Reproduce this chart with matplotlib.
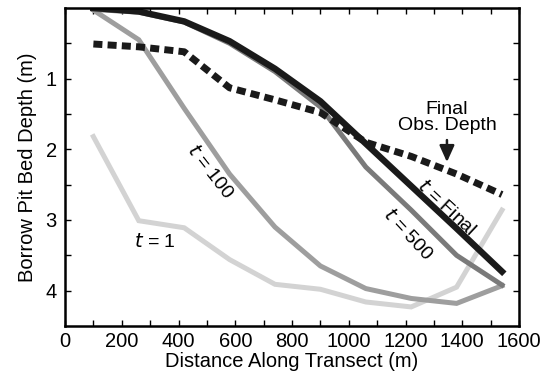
import numpy as np
import matplotlib
matplotlib.use("Agg")
import matplotlib.pyplot as plt

plt.rcParams['font.family'] = ['Liberation Sans', 'DejaVu Sans']

# distance along transect (m)
dist = [100, 260, 420, 580, 740, 900, 1060, 1220, 1380, 1540]

# modelled bed depth (m) at several times, plus the observed final depth
t1 = [1.82, 3.01, 3.11, 3.56, 3.91, 3.98, 4.16, 4.23, 3.95, 2.86]
t100 = [0.03, 0.45, 1.42, 2.35, 3.10, 3.65, 3.97, 4.11, 4.18, 3.93]
t500 = [0.02, 0.06, 0.20, 0.50, 0.90, 1.40, 2.25, 2.86, 3.50, 3.92]
tfinal = [0.0, 0.05, 0.19, 0.47, 0.86, 1.32, 1.92, 2.52, 3.12, 3.73]
obs = [0.51, 0.55, 0.62, 1.13, 1.30, 1.48, 1.90, 2.10, 2.35, 2.64]

fs = 14.5

fig = plt.figure(figsize=(5.49, 3.79), dpi=100)
ax = fig.add_axes([0.1184, 0.1398, 0.8270, 0.8392])

ax.plot(dist, t1, color='#d3d3d3', lw=3.6, solid_joinstyle='miter')
ax.plot(dist, t100, color='#9e9e9e', lw=3.6, solid_joinstyle='miter')
ax.plot(dist, t500, color='#7a7a7a', lw=3.6, solid_joinstyle='miter')
ax.plot(dist, tfinal, color='#1a1a1a', lw=4.6, solid_joinstyle='miter')
ax.plot(dist, obs, color='#1a1a1a', lw=5.0, linestyle=(0, (1.3, 0.75)),
        dash_capstyle='butt')

# curve labels
ax.text(317, 3.31, r'$\it{t}$ = 1', fontsize=14, ha='center', va='center')
ax.text(511, 2.32, r'$\it{t}$ = 100', fontsize=14, ha='center', va='center',
        rotation=-52, rotation_mode='anchor')
ax.text(1209, 3.21, r'$\it{t}$ = 500', fontsize=14, ha='center', va='center',
        rotation=-47, rotation_mode='anchor')
ax.text(1343, 2.82, r'$\it{t}$ = Final', fontsize=14, ha='center', va='center',
        rotation=-43, rotation_mode='anchor')

ax.text(1346, 1.55, 'Final\nObs. Depth', fontsize=14, ha='center', va='center',
        linespacing=0.95)
ax.annotate('', xy=(1346, 2.22), xytext=(1346, 1.83),
            arrowprops=dict(arrowstyle='-|>,head_length=1.0,head_width=0.45',
                            color='#1a1a1a', lw=1.8))

ax.set_xlim(0, 1600)
ax.set_ylim(4.5, 0)
ax.set_xticks(np.arange(0, 1601, 200))
ax.set_xticks(np.arange(100, 1600, 200), minor=True)
ax.set_yticks([1, 2, 3, 4])
ax.set_yticks([0.5, 1.5, 2.5, 3.5], minor=True)
ax.tick_params(which='both', direction='in', top=True, right=True,
               length=4, width=1.0, labelsize=fs)
ax.tick_params(axis='y', pad=6)
ax.tick_params(axis='x', pad=4)
for s in ax.spines.values():
    s.set_linewidth(1.8)

ax.set_xlabel('Distance Along Transect (m)', fontsize=fs, labelpad=1)
ax.set_ylabel('Borrow Pit Bed Depth (m)', fontsize=fs, labelpad=6)

fig.savefig('out.png', dpi=100)
